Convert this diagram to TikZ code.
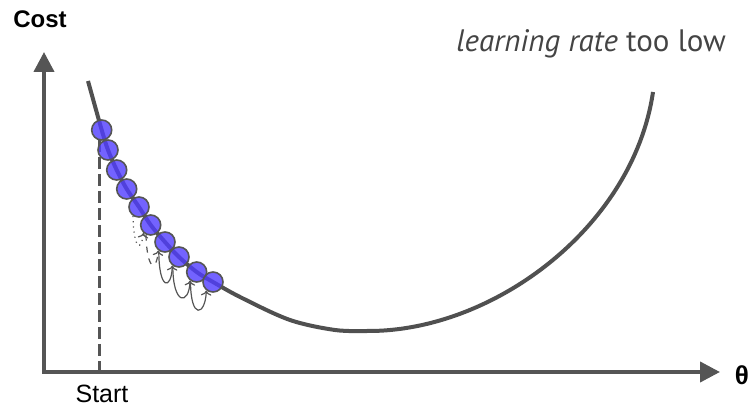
\documentclass[tikz,border=0pt]{standalone}
\usepackage{fontspec}
\setmainfont{Liberation Sans}
\newfontfamily\notefont{PT Sans}
\usetikzlibrary{arrows.meta}

\definecolor{axisgray}{HTML}{555555}
\definecolor{curvegray}{HTML}{505050}
\definecolor{notegray}{HTML}{444444}
\definecolor{ballblue}{RGB}{80,60,255}

\tikzset{
  axis/.style={line width=2pt, draw=axisgray,
    {Triangle[length=10pt,width=10pt]}-{Triangle[length=10pt,width=10pt]}},
  ball/.style={circle, minimum size=10pt, inner sep=0pt, draw=axisgray,
    line width=0.8pt, fill=ballblue, fill opacity=0.8},
  hop/.style={draw=axisgray, line width=0.6pt, -{To[length=2.5pt]}},
}

\begin{document}
\begin{tikzpicture}[x=0.5pt, y=-0.5pt]
  \useasboundingbox (0,0) rectangle (754,405);
  % axes
  \coordinate (origin) at (44,372);
  \coordinate (ytip) at (44,52);
  \coordinate (xtip) at (720,372);
  \draw[axis] (ytip) -- (origin) -- (xtip);
  % cost curve
  \draw[curvegray, line width=2pt] plot[smooth, tension=0.55] coordinates {
      (88,81) (101.7,130) (108,150) (116.7,170) (126.7,189) (139,207)
      (150.7,225) (165,242) (179,257) (196.7,272) (213,282) (242,298)
      (290,320) (335,330) (367,331)}
    .. controls (492,332) and (633,228) .. (653,92);
  % start marker
  \coordinate (s0) at (99.5,140);
  \draw[axisgray, line width=1.5pt, dash pattern=on 6pt off 2.5pt] (s0) -- (s0 |- origin);
  % balls
  \foreach \x/\y [count=\i] in {101.7/130, 108/150, 116.7/170, 126.7/189, 139/207,
      150.7/225, 165/242, 179/257, 196.7/272, 213/282}
    \node[ball] (b\i) at (\x,\y) {};
  % steps
  \draw[hop, dotted] (b5.236) .. controls +(1,36) and +(-2,18) .. (b6.228);
  \draw[hop, dashed] (b6.244) .. controls +(1,36) and +(-2,22) .. (b7.232);
  \foreach \i/\j in {7/8, 8/9, 9/10}
    \draw[hop] (b\i.235) .. controls +(0,40) and +(-1,25) .. (b\j.232);
  % labels
  \node[font=\bfseries\fontsize{12}{14}\selectfont, anchor=base] (costlabel) at (40,28) {Cost};
  \node[font=\fontsize{12.5}{15}\selectfont, anchor=base] (startlabel) at (102,402) {Start};
  \node[font=\bfseries\fontsize{13}{15}\selectfont, anchor=base] (thetalabel) at (742,385) {θ};
  \node[font=\notefont\fontsize{15.5}{18}\selectfont, text=notegray, anchor=base east]
    (note) at (733,52) {\textit{learning rate} too low};
\end{tikzpicture}
\end{document}
